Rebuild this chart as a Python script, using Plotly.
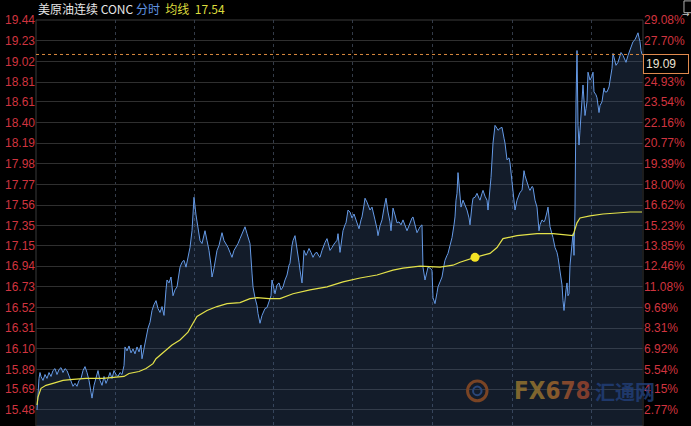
import plotly.graph_objects as go

# price axis labels (left) and change labels (right)
price_ticks = [19.44, 19.23, 19.02, 18.81, 18.61, 18.40, 18.19, 17.98, 17.77, 17.56,
               17.35, 17.15, 16.94, 16.73, 16.52, 16.31, 16.10, 15.89, 15.69, 15.48]
pct_ticks = ["29.08%", "27.70%", "26.31%", "24.93%", "23.54%", "22.16%", "20.77%",
             "19.39%", "18.00%", "16.62%", "15.23%", "13.85%", "12.46%", "11.08%",
             "9.69%", "8.31%", "6.92%", "5.54%", "4.15%", "2.77%"]

# intraday price (bar index, price)
bar_idx = [
    1, 2, 3, 4, 5, 7, 9, 11, 13, 15,
    17, 19, 21, 23, 25, 27, 29, 31, 33, 35,
    37, 39, 41, 43, 45, 47, 49, 51, 53, 55,
    56, 58, 60, 62, 64, 66, 68, 70, 72, 74,
    76, 78, 80, 82, 84, 86, 88, 89, 91, 93,
    95, 97, 99, 101, 103, 105, 106, 108, 110, 112,
    114, 116, 118, 120, 122, 124, 126, 128, 130, 131,
    133, 135, 137, 139, 141, 143, 144, 146, 148, 150,
    152, 154, 156, 158, 160, 162, 164, 166, 168, 169,
    171, 173, 175, 176, 178, 179, 181, 183, 185, 186,
    188, 190, 192, 194, 196, 198, 200, 202, 204, 206,
    208, 209, 211, 212, 214, 216, 217, 219, 221, 222,
    224, 226, 227, 229, 231, 233, 235, 236, 238, 239,
    241, 243, 245, 247, 249, 251, 253, 254, 256, 257,
    259, 261, 263, 264, 266, 268, 270, 271, 273, 275,
    277, 279, 281, 283, 284, 286, 287, 289, 291, 293,
    294, 296, 297, 299, 301, 302, 304, 306, 307, 309,
    310, 312, 314, 316, 318, 319, 321, 323, 325, 326,
    328, 329, 331, 332, 334, 336, 338, 339, 341, 342,
    344, 346, 348, 350, 352, 354, 355, 357, 359, 361,
    363, 365, 367, 369, 371, 373, 374, 376, 377, 379,
    381, 383, 384, 386, 387, 389, 391, 392, 394, 396,
    397, 399, 401, 402, 404, 406, 408, 409, 411, 412,
    414, 416, 418, 419, 420, 421, 422, 424, 425, 427,
    429, 431, 433, 434, 436, 437, 439, 441, 443, 444,
    446, 447, 449, 451, 452, 454, 455, 457, 459, 461,
    462, 464, 466, 468, 469, 471, 473, 474, 476, 477,
    479, 481, 482, 484, 486, 488, 489, 491, 493, 494,
    496, 497, 499, 501, 503, 504, 506, 508, 509, 511,
    512, 514, 516, 517, 519, 521, 522, 524, 526, 527,
    528, 530, 531, 532, 533, 534, 536, 537, 538, 539,
    540, 541, 542, 543, 544, 545, 546, 547, 548, 549,
    550, 551, 552, 554, 555, 556, 557, 558, 560, 561,
    563, 564, 566, 568, 569, 571, 573, 575, 576, 577,
    578, 580, 582, 584, 585, 587, 588, 590, 592, 594,
    595, 597, 599, 600, 602, 603, 604, 605, 606,
]
price = [
    15.48, 15.66, 15.80, 15.86, 15.82, 15.78, 15.84, 15.80, 15.86, 15.82,
    15.88, 15.90, 15.84, 15.89, 15.91, 15.86, 15.90, 15.88, 15.83, 15.78,
    15.72, 15.75, 15.72, 15.78, 15.80, 15.88, 15.92, 15.86, 15.78, 15.66,
    15.60, 15.73, 15.82, 15.88, 15.78, 15.73, 15.82, 15.75, 15.80, 15.86,
    15.80, 15.88, 15.84, 15.82, 15.86, 15.84, 15.93, 16.12, 16.08, 16.13,
    16.06, 16.10, 16.05, 16.12, 16.07, 16.14, 16.00, 16.10, 16.23, 16.31,
    16.37, 16.49, 16.55, 16.59, 16.51, 16.47, 16.53, 16.44, 16.70, 16.80,
    16.77, 16.83, 16.64, 16.70, 16.73, 16.88, 16.93, 16.98, 17.00, 16.93,
    17.05, 17.13, 17.30, 17.64, 17.46, 17.32, 17.20, 17.17, 17.28, 17.30,
    17.20, 17.10, 16.95, 16.83, 16.92, 16.97, 17.10, 17.15, 17.25, 17.28,
    17.20, 17.17, 17.13, 17.08, 17.03, 17.10, 17.13, 17.17, 17.22, 17.27,
    17.30, 17.34, 17.27, 17.23, 17.17, 16.87, 16.73, 16.62, 16.54, 16.46,
    16.36, 16.44, 16.47, 16.51, 16.52, 16.59, 16.64, 16.80, 16.70, 16.66,
    16.75, 16.77, 16.70, 16.73, 16.80, 16.85, 16.95, 16.97, 17.15, 17.20,
    17.25, 17.13, 16.98, 16.90, 16.77, 17.10, 17.05, 17.07, 17.12, 17.08,
    17.03, 17.07, 17.08, 17.04, 17.03, 17.10, 17.13, 17.18, 17.22, 17.14,
    17.10, 17.13, 17.15, 17.18, 17.20, 17.27, 17.08, 17.22, 17.30, 17.36,
    17.38, 17.51, 17.49, 17.43, 17.47, 17.44, 17.39, 17.32, 17.41, 17.44,
    17.56, 17.63, 17.59, 17.56, 17.51, 17.54, 17.47, 17.41, 17.32, 17.25,
    17.35, 17.41, 17.53, 17.63, 17.49, 17.39, 17.30, 17.53, 17.46, 17.38,
    17.39, 17.36, 17.41, 17.35, 17.30, 17.35, 17.38, 17.43, 17.44, 17.36,
    17.28, 17.32, 17.34, 17.36, 16.93, 16.80, 16.88, 16.93, 16.92, 16.90,
    16.62, 16.56, 16.67, 16.73, 16.78, 16.83, 16.95, 17.00, 17.05, 17.07,
    17.15, 17.23, 17.36, 17.44, 17.61, 17.68, 17.89, 17.66, 17.54, 17.61,
    17.56, 17.51, 17.43, 17.36, 17.56, 17.63, 17.64, 17.68, 17.63, 17.61,
    17.68, 17.71, 17.65, 17.61, 17.51, 17.71, 17.84, 18.19, 18.37, 18.34,
    18.32, 18.34, 18.35, 18.24, 18.19, 18.02, 18.04, 17.99, 17.81, 17.68,
    17.51, 17.61, 17.64, 17.69, 17.71, 17.91, 17.86, 17.78, 17.73, 17.71,
    17.75, 17.74, 17.61, 17.54, 17.30, 17.36, 17.41, 17.39, 17.41, 17.49,
    17.54, 17.34, 17.27, 17.23, 17.13, 17.08, 17.03, 16.90, 16.75, 16.59,
    16.49, 16.70, 16.77, 16.64, 16.66, 16.95, 17.20, 17.27, 17.05, 17.53,
    18.61, 19.13, 18.37, 18.17, 18.32, 18.44, 18.63, 18.78, 18.63, 18.47,
    18.54, 18.61, 18.91, 18.83, 18.85, 18.87, 18.91, 18.71, 18.68, 18.65,
    18.50, 18.57, 18.61, 18.75, 18.71, 18.71, 18.76, 18.91, 18.95, 19.10,
    19.05, 18.98, 19.01, 19.07, 19.11, 19.08, 19.05, 19.01, 19.08, 19.13,
    19.16, 19.22, 19.24, 19.26, 19.31, 19.26, 19.22, 19.13, 19.09,
]

# average price line
avg_idx = [1, 2, 5, 10, 17, 27, 37, 50, 67, 80, 88, 93, 103, 110, 117, 120, 129, 136,
           144, 152, 157, 161, 171, 181, 191, 204, 214, 221, 233, 244, 257, 274, 291,
           307, 324, 341, 357, 367, 384, 404, 417, 424, 439, 454, 461, 467, 481, 501,
           517, 531, 537, 541, 544, 554, 567, 581, 594, 606]
avg_price = [15.53, 15.61, 15.70, 15.73, 15.75, 15.78, 15.79, 15.80, 15.80, 15.81,
             15.82, 15.85, 15.87, 15.90, 15.95, 16.00, 16.08, 16.14, 16.19, 16.27,
             16.36, 16.43, 16.49, 16.53, 16.56, 16.57, 16.61, 16.62, 16.61, 16.61,
             16.66, 16.70, 16.73, 16.78, 16.82, 16.85, 16.90, 16.92, 16.94, 16.93,
             16.95, 16.98, 17.03, 17.07, 17.13, 17.22, 17.25, 17.27, 17.27, 17.26,
             17.25, 17.38, 17.43, 17.45, 17.47, 17.48, 17.49, 17.49]

cursor_idx = 439
cursor_avg = 17.03
last_price = 19.09
avg_now = 17.54

grid_idx = [79, 158, 237, 316, 396, 476, 555]

y_lo, y_hi = 15.317, 19.44
x_lo, x_hi = 0, 607

label_red = "#d0343f"
font_main = "Liberation Sans, Arial, sans-serif"

fig = go.Figure()

fig.add_trace(go.Scatter(
    x=bar_idx, y=price, mode="lines",
    line=dict(color="#659ae6", width=1),
    fill="tozeroy", fillcolor="rgba(62,92,140,0.30)",
    hoverinfo="skip", showlegend=False,
))
fig.add_trace(go.Scatter(
    x=avg_idx, y=avg_price, mode="lines",
    line=dict(color="#e4e24a", width=1.2),
    hoverinfo="skip", showlegend=False,
))
fig.add_trace(go.Scatter(
    x=[cursor_idx], y=[cursor_avg], mode="markers",
    marker=dict(color="#f4e325", size=9),
    hoverinfo="skip", showlegend=False,
))
# dummy trace so the right-hand axis is drawn
fig.add_trace(go.Scatter(
    x=bar_idx, y=price, yaxis="y2", mode="lines",
    line=dict(width=0), opacity=0, hoverinfo="skip", showlegend=False,
))

# last price dashed line + tag
fig.add_shape(type="line", xref="paper", x0=0, x1=1, yref="y", y0=last_price, y1=last_price,
              line=dict(color="#d8883e", width=1, dash="3px,3px"))
fig.add_annotation(
    xref="paper", x=1, yref="y", y=last_price, xanchor="left", yanchor="top",
    text="19.09", showarrow=False, align="left",
    font=dict(family=font_main, size=12, color="#ece2d2"),
    bgcolor="#000000", bordercolor="#e08a4e", borderwidth=1, borderpad=2, width=40,
)

# plot frame
fig.add_shape(type="rect", xref="paper", yref="paper", x0=0, x1=1, y0=0, y1=1,
              line=dict(color="#3a3a3a", width=1), layer="below")

# header
fig.add_annotation(
    xref="paper", yref="paper", x=0, y=1, xanchor="left", yanchor="bottom", yshift=1,
    showarrow=False,
    text=("<span style='color:#e6e6e6'>美原油连续 CONC</span> "
          "<span style='color:#5f93e0'>分时</span>  "
          "<span style='color:#dcdc3c'>均线</span>  "
          f"<span style='color:#dcdc3c'>{avg_now:.2f}</span>"),
    font=dict(family="Noto Sans CJK SC, " + font_main, size=12),
)

# top-right icon
fig.add_shape(type="rect", xref="paper", yref="paper", x0=1.0675, x1=1.0905, y0=1.018, y1=1.047,
              line=dict(color="#b0b0b0", width=1))
fig.add_annotation(xref="paper", yref="paper", x=1.081, y=1.032, text="→", showarrow=False,
                   font=dict(family="DejaVu Sans", size=9, color="#c8c8c8"))

# watermark
fig.add_shape(type="circle", xref="paper", yref="paper", x0=0.711, x1=0.743, y0=0.062, y1=0.111,
              line=dict(color="#7a4424", width=3))
fig.add_shape(type="circle", xref="paper", yref="paper", x0=0.720, x1=0.734, y0=0.076, y1=0.097,
              line=dict(color="#2a4678", width=2))
fig.add_annotation(
    xref="paper", yref="paper", x=0.784, y=0.086, xanchor="left", yanchor="middle",
    align="left", showarrow=False, opacity=0.8,
    text=("<b><span style='color:#9a7830'>FX</span><span style='color:#a4692c'>6</span>"
          "<span style='color:#a0532e'>7</span><span style='color:#9c462e'>8</span></b>"),
    font=dict(family="Liberation Sans Narrow, DejaVu Sans Condensed, " + font_main, size=24),
)
fig.add_annotation(
    xref="paper", yref="paper", x=0.9176, y=0.086, xanchor="left", yanchor="middle",
    align="left", showarrow=False, text="<b>汇通网</b>", opacity=0.8,
    font=dict(family="Noto Sans CJK SC", size=20, color="#22407a"),
)

fig.update_layout(
    width=691, height=426,
    margin=dict(l=36, r=48, t=20, b=0, autoexpand=False),
    paper_bgcolor="#000000", plot_bgcolor="#000000",
    font=dict(family=font_main, size=12, color=label_red),
    xaxis=dict(
        range=[x_lo, x_hi], showticklabels=False, zeroline=False, automargin=False,
        tickvals=grid_idx, showgrid=True, gridcolor="#333b48", griddash="dot", gridwidth=1,
    ),
    yaxis=dict(
        range=[y_lo, y_hi], tickvals=price_ticks, ticktext=[f"{v:.2f}" for v in price_ticks],
        showgrid=True, gridcolor="#2f2f2f", zeroline=False, automargin=False,
        tickfont=dict(color=label_red, size=12), ticks="",
    ),
    yaxis2=dict(
        range=[y_lo, y_hi], overlaying="y", side="right", automargin=False,
        tickvals=price_ticks, ticktext=pct_ticks, showgrid=False, zeroline=False,
        tickfont=dict(color=label_red, size=12), ticks="",
    ),
)

fig.write_html(
    "out.html",
    config={"displayModeBar": False},
    post_script="document.body.style.margin='0';document.body.style.overflow='hidden';",
)
